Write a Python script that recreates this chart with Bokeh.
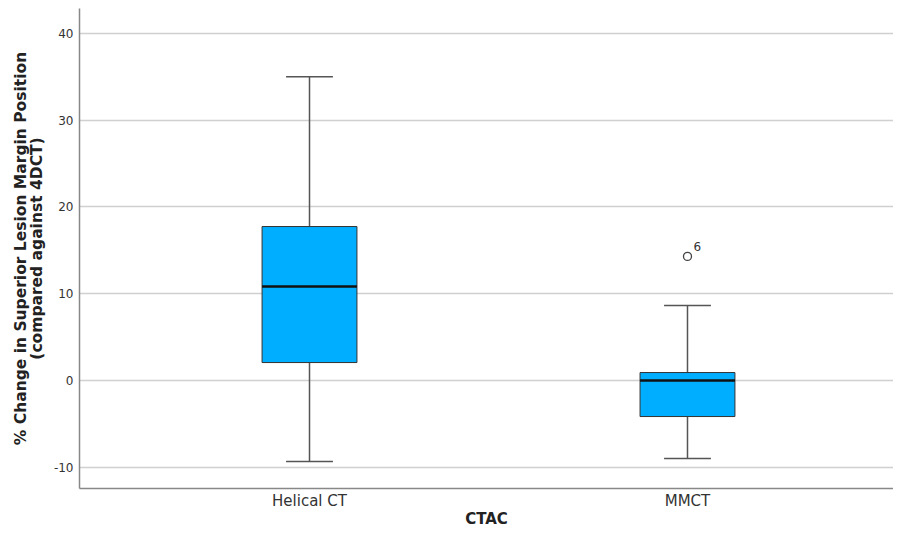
from bokeh.plotting import figure
from bokeh.models import Range1d, FixedTicker, ColumnDataSource
from bokeh.embed import file_html
from bokeh.resources import INLINE

categories = ["Helical CT", "MMCT"]
q1 = [2.07, -4.15]
median = [10.83, 0.0]
q3 = [17.74, 0.92]
lower = [-9.33, -8.99]
upper = [35.0, 8.64]
outlier_cat = ["MMCT"]
outlier_val = [14.3]
outlier_label = ["6"]
y_ticks = [-10, 0, 10, 20, 30, 40]
y_tick_labels = ["-10", "0", "10", "20", "30", "40"]

xs = [i + 1 for i in range(len(categories))]
box_w = 0.251
cap_w = 0.124

src = ColumnDataSource(dict(
    x=xs, q1=q1, med=median, q3=q3, lo=lower, hi=upper,
    xl=[x - box_w / 2 for x in xs], xr=[x + box_w / 2 for x in xs],
    cl=[x - cap_w / 2 for x in xs], cr=[x + cap_w / 2 for x in xs],
))
ox = [xs[categories.index(c)] for c in outlier_cat]
osrc = ColumnDataSource(dict(x=ox, y=outlier_val, lab=outlier_label))

FONT = "DejaVu Sans"

p = figure(width=893, height=530, output_backend="svg", toolbar_location=None,
           x_range=Range1d(0.3915, 2.545), y_range=Range1d(-12.44, 42.86),
           min_border_left=79, min_border_right=0, min_border_top=8, min_border_bottom=30)
p.outline_line_color = None
p.background_fill_color = "white"
p.border_fill_color = "white"

# whiskers
p.segment(x0="x", y0="q3", x1="x", y1="hi", source=src, line_color="#555555", line_width=1.5)
p.segment(x0="x", y0="lo", x1="x", y1="q1", source=src, line_color="#555555", line_width=1.5)
p.segment(x0="cl", y0="hi", x1="cr", y1="hi", source=src, line_color="#555555", line_width=1.5)
p.segment(x0="cl", y0="lo", x1="cr", y1="lo", source=src, line_color="#555555", line_width=1.5)
# boxes
p.vbar(x="x", width=box_w, top="q3", bottom="q1", source=src,
       fill_color="#00AEFF", line_color="#333333", line_width=1)
p.segment(x0="xl", y0="med", x1="xr", y1="med", source=src, line_color="#111111", line_width=2.5)
# outliers
p.scatter(x="x", y="y", source=osrc, marker="circle", size=8,
          fill_color="white", line_color="#444444", line_width=1.3)
p.text(x="x", y="y", text="lab", source=osrc, x_offset=6, y_offset=-5,
       text_font_size="12px", text_color="#333333", text_baseline="bottom",
       text_font={"value": FONT})

p.xgrid.visible = False
p.ygrid.grid_line_color = "#d0d0d0"
p.ygrid.grid_line_width = 1.5
p.yaxis.ticker = FixedTicker(ticks=y_ticks)
p.yaxis.major_label_overrides = {t: s for t, s in zip(y_ticks, y_tick_labels)}
p.xaxis.ticker = FixedTicker(ticks=xs)
p.xaxis.major_label_overrides = {x: c for x, c in zip(xs, categories)}

for ax in (p.xaxis[0], p.yaxis[0]):
    ax.major_tick_out = 0
    ax.major_tick_in = 0
    ax.minor_tick_out = 0
    ax.minor_tick_in = 0
    ax.axis_line_color = "#888888"
    ax.axis_line_width = 1.5
    ax.major_label_text_font = FONT
    ax.axis_label_text_font = FONT
    ax.axis_label_text_font_style = "bold"
    ax.axis_label_text_color = "#222222"
    ax.major_label_text_color = "#333333"

p.yaxis.major_label_text_font_size = "12px"
p.yaxis.major_label_standoff = 6
p.yaxis.axis_label = "% Change in Superior Lesion Margin Position\n(compared against 4DCT)"
p.yaxis.axis_label_text_font_size = "15.5px"
p.yaxis.axis_label_text_line_height = 0.9
p.yaxis.axis_label_standoff = 5

p.xaxis.major_label_text_font_size = "15px"
p.xaxis.major_label_standoff = 3
p.xaxis.axis_label = "CTAC"
p.xaxis.axis_label_text_font_size = "15px"
p.xaxis.axis_label_standoff = -3

open("out.html", "w").write(file_html(p, INLINE))
